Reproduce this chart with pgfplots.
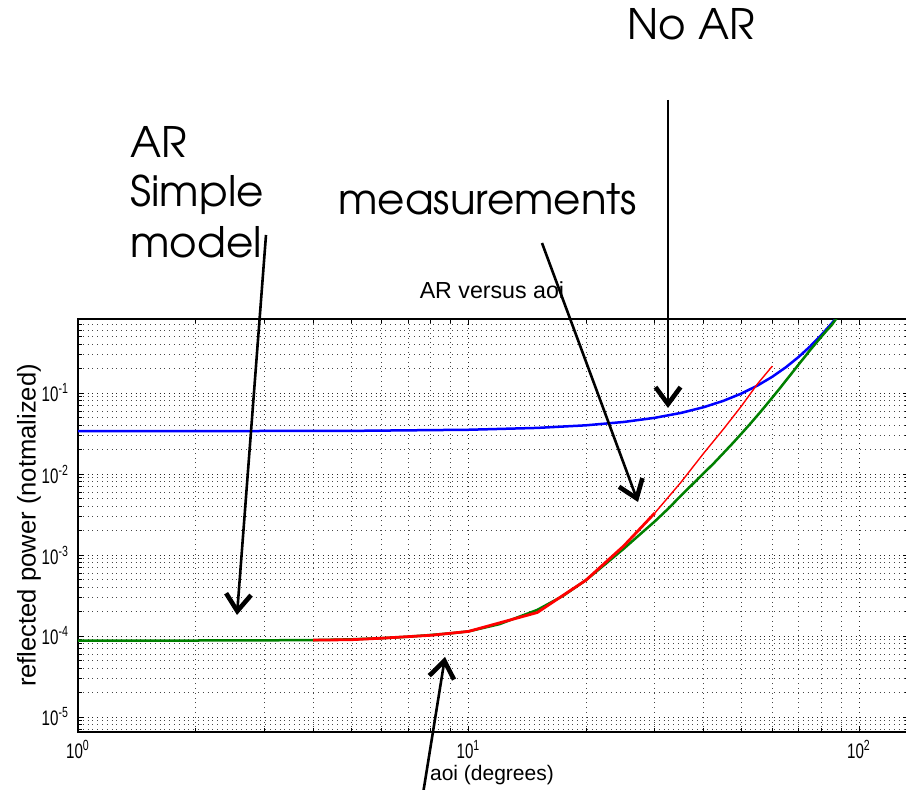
\documentclass[border=0pt]{standalone}
\usepackage{fontspec}
\setmainfont{Liberation Sans}
\newfontfamily\adv{texgyreadventor-regular.otf}
\newfontfamily\narrowsans[FakeStretch=0.72]{Liberation Sans}
\usepackage{pgfplots}
\pgfplotsset{compat=1.18}
\usetikzlibrary{arrows.meta}
\definecolor{mblue}{rgb}{0,0,1}
\definecolor{mgreen}{rgb}{0,0.5,0}
\definecolor{mred}{rgb}{1,0,0}
\begin{document}
\begin{tikzpicture}
\begin{axis}[
  at={(39pt,-366pt)}, anchor=south west,
  scale only axis, width=415.3pt, height=206.5pt,
  xmode=log, ymode=log,
  xmin=1, xmax=134, ymin=6.53e-6, ymax=0.82,
  xtick={1,10,100},
  xticklabels={10\textsuperscript{0},10\textsuperscript{1},10\textsuperscript{2}},
  ytick={1e-5,1e-4,1e-3,1e-2,1e-1},
  yticklabels={10\textsuperscript{-5},10\textsuperscript{-4},10\textsuperscript{-3},10\textsuperscript{-2},10\textsuperscript{-1}},
  minor xtick={2,3,4,5,6,7,8,9,20,30,40,50,60,70,80,90},
  minor ytick={7e-6,8e-6,9e-6,2e-5,3e-5,4e-5,5e-5,6e-5,7e-5,8e-5,9e-5,2e-4,3e-4,4e-4,5e-4,6e-4,7e-4,8e-4,9e-4,2e-3,3e-3,4e-3,5e-3,6e-3,7e-3,8e-3,9e-3,0.02,0.03,0.04,0.05,0.06,0.07,0.08,0.09,0.2,0.3,0.4,0.5,0.6,0.7,0.8},
  tick label style={font=\narrowsans\fontsize{10.5}{12}\selectfont},
  yticklabel style={xshift=-1pt},
  xticklabel style={yshift=-0.5pt},
  grid=both,
  major grid style={black!85, dotted, line width=0.45pt},
  minor grid style={black!72, dotted, line width=0.4pt},
  tick style={black, line width=0.4pt},
  major tick length=3pt, minor tick length=1.8pt,
  axis line style={black, line width=0.6pt},
  every axis title shift=0pt,
  title={AR versus aoi},
  title style={at={(0.4984,1.0508)}, anchor=base, font=\fontsize{11.6}{13}\selectfont},
  xlabel={aoi (degrees)},
  xlabel style={at={(0.4984,-0.1186)}, anchor=base, font=\fontsize{10.5}{12}\selectfont},
  ylabel={reflected power (notmalized)},
  ylabel style={at={(-0.0590,0.5)}, anchor=center, rotate=0, font=\fontsize{12.8}{14}\selectfont},
]
% No AR (blue)
\addplot[mblue, line width=1.25pt] coordinates {
 (1,0.03374) (5,0.03409) (10,0.03519) (15,0.03709) (20,0.03994) (25,0.04394)
 (30,0.04941) (35,0.05679) (40,0.06675) (45,0.0802) (50,0.09857) (55,0.12383)
 (60,0.15894) (65,0.20817) (70,0.27778) (75,0.37671) (80,0.51761) (85,0.71773)
 (87,0.8193) (88,0.8755) (89,0.9357)
};
% AR simple model (green)
\addplot[mgreen, line width=1.25pt] coordinates {
 (1,8.8e-5) (2,8.8e-5) (3,8.85e-5) (4,8.9e-5) (5,9.1e-5) (6,9.4e-5) (7,9.8e-5)
 (8,1.03e-4) (9,1.08e-4) (10,1.14e-4) (12,1.4e-4) (15,2.1e-4) (17.5,3.15e-4)
 (20,4.9e-4) (22.5,7.85e-4) (25,1.2e-3) (27.5,1.8e-3) (30,2.6e-3) (32.5,3.75e-3)
 (35,5.4e-3) (37.5,7.5e-3) (40,0.0102) (42.5,0.0136) (45,0.0182) (47.5,0.0240)
 (50,0.0315) (52.5,0.0410) (55,0.0531) (57.5,0.0685) (60,0.0880) (62.5,0.112)
 (65,0.1424) (67.5,0.179) (70,0.2238) (72.5,0.276) (75,0.339) (77.5,0.410)
 (80,0.492) (82.5,0.585) (85,0.683) (87,0.80) (88,0.86) (89,0.92)
};
% measurements (red)
\addplot[mred, line width=1.4pt] coordinates {
 (4,8.9e-5) (5,9.0e-5) (6,9.4e-5) (8,1.02e-4) (10,1.14e-4) (15,1.95e-4)
 (20,4.9e-4) (25,1.3e-3) (30,3.3e-3)
};
\addplot[mred, line width=0.7pt] coordinates {
 (30,3.3e-3) (35,7.9e-3) (40,0.018) (45,0.036) (50,0.069) (55,0.13) (60,0.215)
};
\end{axis}
\begin{scope}[x=0.5pt,y=-0.5pt]
\tikzset{ann/.style={line width=1.3pt, -{Straight Barb[length=8.5pt,width=12.5pt,line width=2.3pt]}}}
\draw[ann] (668,100) -- (668,408);
\draw[ann] (266,235) -- (237,615);
\draw[ann] (542,243) -- (638,502);
\draw[ann] (422,800) -- (445,657);
\begin{scope}[every node/.style={anchor=base west, inner sep=0pt, font=\adv\fontsize{21}{25}\selectfont}]
\node at (627,40) {No AR};
\node at (130,158) {AR};
\node at (130,207) {Simple};
\node at (130,258) {model};
\node at (338,215) {measurements};
\end{scope}
\end{scope}
\pgfresetboundingbox
\useasboundingbox (0,0) rectangle (453pt,-395pt);
\end{tikzpicture}
\end{document}
